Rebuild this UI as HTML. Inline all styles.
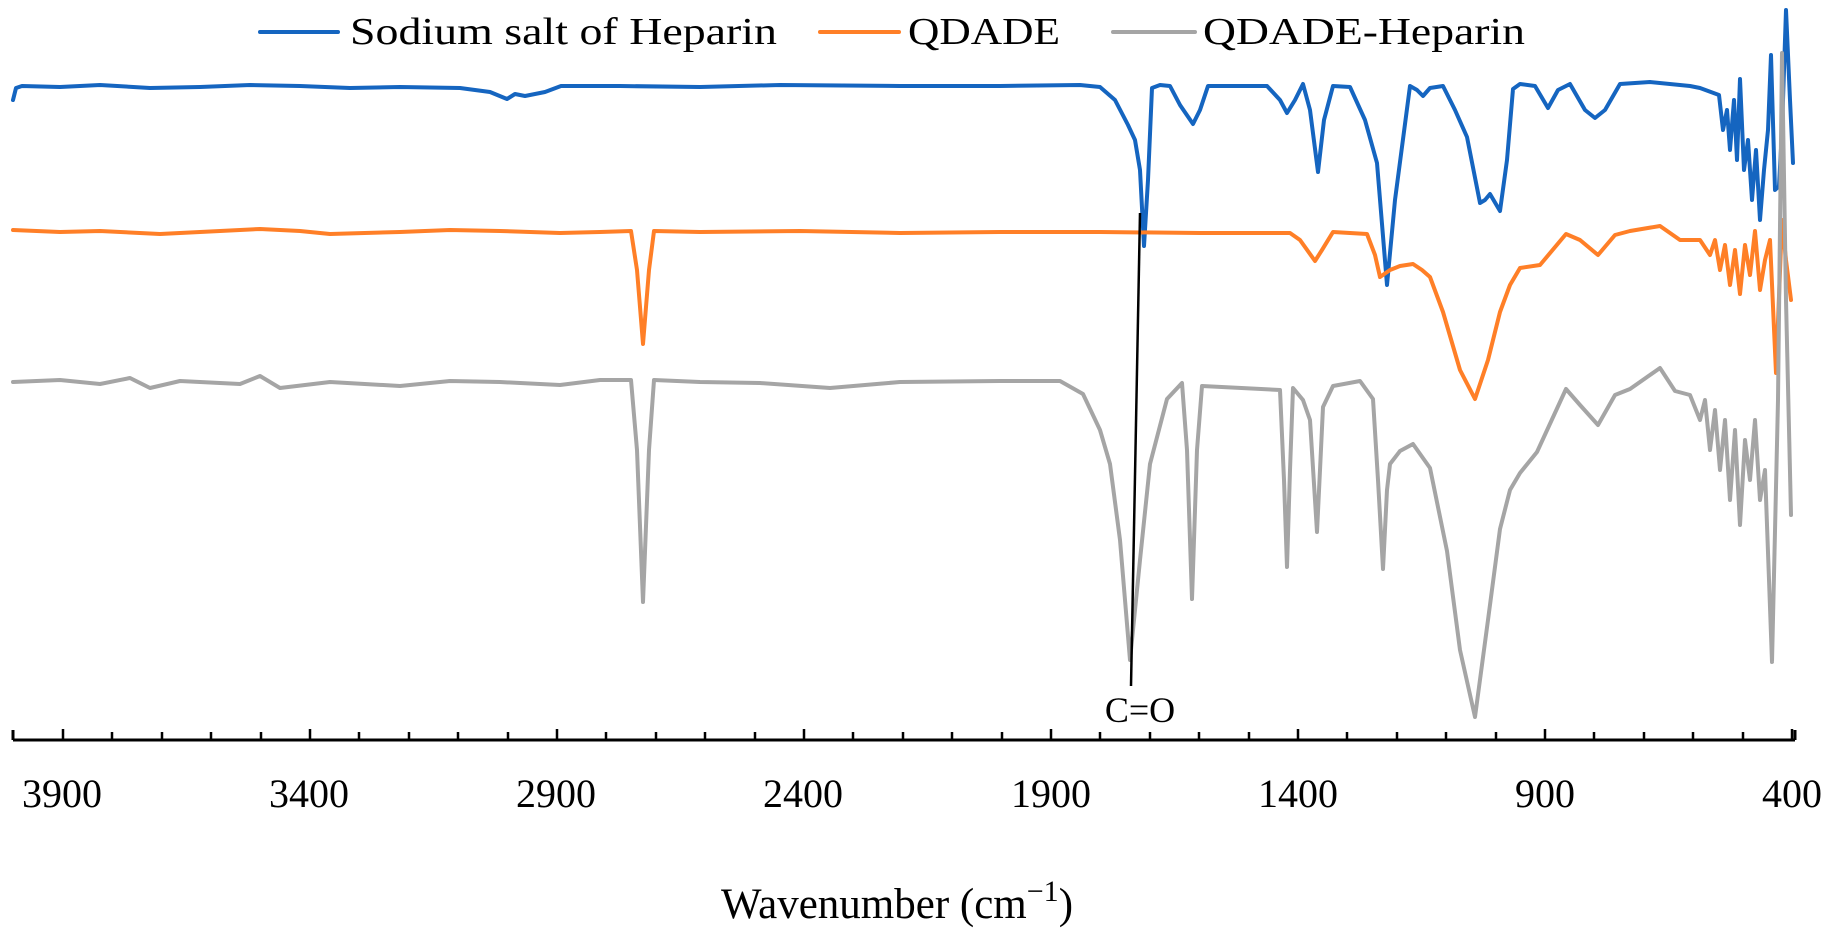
<!DOCTYPE html>
<html><head><meta charset="utf-8"><style>html,body{margin:0;padding:0;background:#fff}svg{display:block}</style></head>
<body>
<svg width="1832" height="946" viewBox="0 0 1832 946" xmlns="http://www.w3.org/2000/svg" font-family="Liberation Serif, serif">
<g fill="none" stroke-linejoin="round" stroke-linecap="round" stroke-width="4">
<polyline stroke="#1565c0" points="13,100 16,88 22,86 60,87 100,85 150,88 200,87 250,85 300,86 350,88 400,87 460,88 490,92 507,99 515,94 525,96 545,92 561,86 620,86 700,87 780,85 900,86 1000,86 1080,85 1100,87 1115,100 1128,125 1135,140 1140,170 1144,246 1148,180 1152,88 1160,85 1170,86 1180,105 1193,124 1200,110 1208,86 1267,86 1280,100 1287,113 1295,100 1303,84 1310,110 1318,172 1324,120 1333,86 1350,87 1365,120 1377,163 1387,285 1395,200 1410,86 1417,90 1423,96 1430,88 1443,86 1455,110 1467,137 1480,203 1485,200 1490,194 1500,211 1507,160 1513,89 1520,84 1535,86 1548,108 1558,90 1570,84 1585,110 1595,118 1605,110 1620,84 1650,82 1690,86 1700,88 1719,95 1723,130 1727,110 1730,150 1734,100 1737,160 1740,79 1744,170 1748,140 1752,200 1756,150 1760,220 1764,170 1768,130 1771,55 1775,190 1779,186 1782,130 1786,10 1790,100 1793,163"/>
<polyline stroke="#ff7f27" points="13,230 60,232 100,231 160,234 200,232 260,229 300,231 330,234 400,232 450,230 500,231 560,233 600,232 631,231 637,270 643,344 649,270 654,231 700,232 800,231 900,233 1000,232 1100,232 1200,233 1290,233 1300,240 1315,261 1322,250 1333,232 1367,234 1375,255 1380,277 1390,270 1400,266 1413,264 1422,270 1430,277 1443,312 1460,370 1475,399 1488,360 1500,312 1510,285 1520,268 1540,265 1566,234 1580,240 1598,255 1615,235 1630,231 1660,226 1680,240 1700,240 1710,255 1715,240 1720,270 1725,245 1730,285 1735,250 1740,294 1745,245 1750,275 1755,231 1760,290 1765,260 1770,240 1776,373 1782,220 1786,260 1791,300"/>
<polyline stroke="#a5a5a5" points="13,382 60,380 100,384 130,378 150,388 180,381 240,384 260,376 280,388 330,382 400,386 450,381 500,382 560,385 600,380 631,380 637,450 643,602 649,450 654,380 700,382 760,383 830,388 900,382 1000,381 1060,381 1083,394 1100,430 1110,464 1120,540 1130,660 1140,560 1150,464 1167,399 1182,383 1187,450 1192,599 1197,450 1202,386 1280,390 1284,480 1287,567 1290,470 1293,388 1303,400 1310,420 1317,532 1320,470 1323,407 1333,386 1360,381 1373,399 1378,480 1383,569 1387,490 1390,464 1400,451 1413,444 1430,468 1447,551 1460,650 1475,717 1488,620 1500,529 1510,490 1520,473 1537,452 1566,389 1580,405 1598,425 1615,395 1630,389 1660,368 1675,391 1690,395 1700,420 1705,400 1710,450 1715,410 1720,470 1725,420 1730,500 1735,430 1740,525 1745,440 1750,480 1755,420 1760,500 1765,470 1772,662 1778,400 1782,53 1786,300 1791,515"/>
</g>
<line x1="1140" y1="213" x2="1131" y2="686" stroke="#000" stroke-width="2.5"/>
<text x="1140" y="722" font-size="36" text-anchor="middle">C=O</text>
<g stroke="#000" stroke-width="3">
<line x1="13" y1="740" x2="1795" y2="740"/>
<line x1="13" y1="730" x2="13" y2="740"/>
<line x1="1795" y1="730" x2="1795" y2="740"/>
</g>
<g stroke="#000" stroke-width="2.5">
<path d="M63 729V740M112 732V740M162 732V740M211 732V740M261 732V740M310 729V740M359 732V740M409 732V740M458 732V740M508 732V740M557 729V740M606 732V740M656 732V740M705 732V740M755 732V740M804 729V740M853 732V740M903 732V740M952 732V740M1002 732V740M1051 729V740M1100 732V740M1150 732V740M1199 732V740M1249 732V740M1298 729V740M1347 732V740M1397 732V740M1446 732V740M1496 732V740M1545 729V740M1594 732V740M1644 732V740M1693 732V740M1743 732V740M1792 729V740"/>
</g>
<g font-size="40" text-anchor="middle">
<text x="62" y="807">3900</text>
<text x="309" y="807">3400</text>
<text x="556" y="807">2900</text>
<text x="803" y="807">2400</text>
<text x="1051" y="807">1900</text>
<text x="1298" y="807">1400</text>
<text x="1545" y="807">900</text>
<text x="1792" y="807">400</text>
</g>
<text x="897" y="918" font-size="43" text-anchor="middle">Wavenumber (cm<tspan font-size="30" dy="-17">−1</tspan><tspan dy="17">)</tspan></text>
<g stroke-width="4" stroke-linecap="round">
<line x1="260" y1="32" x2="338" y2="32" stroke="#1565c0"/>
<line x1="820" y1="32" x2="899" y2="32" stroke="#ff7f27"/>
<line x1="1113" y1="32" x2="1195" y2="32" stroke="#a5a5a5"/>
</g>
<g font-size="38">
<text x="350" y="44" textLength="427" lengthAdjust="spacingAndGlyphs">Sodium salt of Heparin</text>
<text x="908" y="44" textLength="152" lengthAdjust="spacingAndGlyphs">QDADE</text>
<text x="1203" y="44" textLength="322" lengthAdjust="spacingAndGlyphs">QDADE-Heparin</text>
</g>
</svg>
</body></html>
